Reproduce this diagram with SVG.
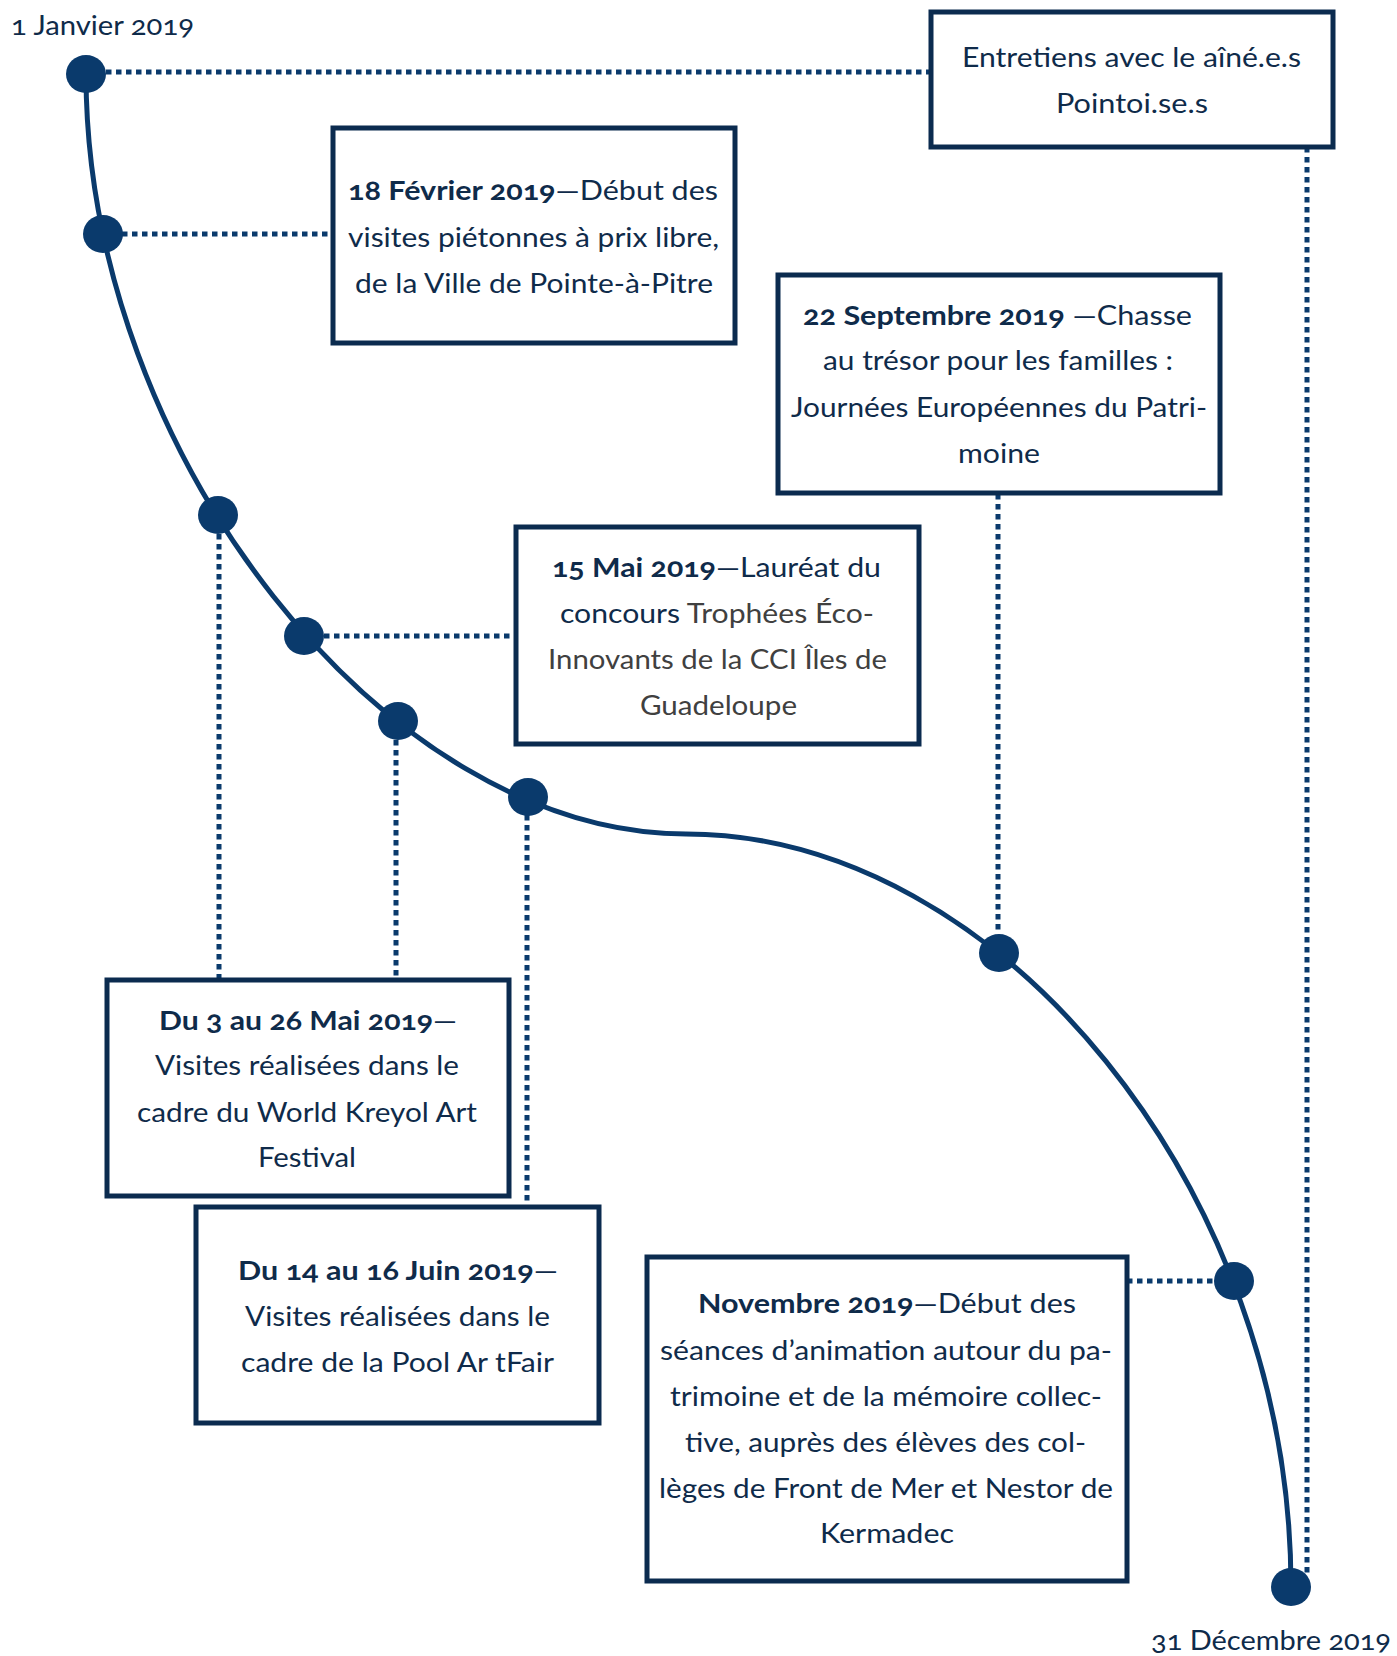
<svg xmlns="http://www.w3.org/2000/svg" width="1397" height="1656" viewBox="0 0 1397 1656">
<style>
.box{fill:#ffffff;stroke:#0b2b4f;stroke-width:5}
.dot{fill:#0a3a6c}
.conn{fill:none;stroke:#0a3a6c;stroke-width:5;stroke-dasharray:5.5 4.5}
.curve{fill:none;stroke:#0a3a6c;stroke-width:5}
text{font-family:Lato,"Open Sans","Liberation Sans",sans-serif;font-size:27px;fill:#0f2b4a;font-variant-numeric:oldstyle-nums}
.b{font-weight:bold}
.g{fill:#404040}
</style>
<rect width="1397" height="1656" fill="#ffffff"/>
<g id="connectors">
<path class="curve" d="M86,74 C86,454 386,834 686,834 C1000,834 1291,1190 1291,1587"/>
<line class="conn" x1="106" y1="72" x2="931" y2="72"/>
<line class="conn" x1="122" y1="234" x2="333" y2="234"/>
<line class="conn" x1="219" y1="534" x2="219" y2="980"/>
<line class="conn" x1="324" y1="636" x2="516" y2="636"/>
<line class="conn" x1="396" y1="740" x2="396" y2="980"/>
<line class="conn" x1="527" y1="815" x2="527" y2="1207"/>
<line class="conn" x1="998" y1="494" x2="998" y2="934"/>
<line class="conn" x1="1127" y1="1281" x2="1214" y2="1281"/>
<line class="conn" x1="1307" y1="147" x2="1307" y2="1575"/>
</g>
<g id="markers">
<ellipse class="dot" cx="86" cy="74" rx="20" ry="19"/>
<ellipse class="dot" cx="103" cy="234" rx="20" ry="19"/>
<ellipse class="dot" cx="218" cy="515" rx="20" ry="19"/>
<ellipse class="dot" cx="304" cy="636" rx="20" ry="19"/>
<ellipse class="dot" cx="398" cy="721" rx="20" ry="19"/>
<ellipse class="dot" cx="528" cy="797" rx="20" ry="19"/>
<ellipse class="dot" cx="999" cy="953" rx="20" ry="19"/>
<ellipse class="dot" cx="1234" cy="1281" rx="20" ry="19"/>
<ellipse class="dot" cx="1291" cy="1587" rx="20" ry="19"/>
</g>
<g id="date-start">
<text x="11" y="35" textLength="183" lengthAdjust="spacingAndGlyphs">1 Janvier 2019</text>
</g>
<g id="date-end">
<text x="1151" y="1650" textLength="240" lengthAdjust="spacingAndGlyphs">31 Décembre 2019</text>
</g>
<g id="box-entretiens">
<rect class="box" x="931" y="12" width="402" height="135"/>
<text x="962" y="67" textLength="339" lengthAdjust="spacingAndGlyphs">Entretiens avec le aîné.e.s</text>
<text x="1056" y="113" textLength="152" lengthAdjust="spacingAndGlyphs">Pointoi.se.s</text>
</g>
<g id="box-fevrier">
<rect class="box" x="333" y="128" width="402" height="215"/>
<text x="348" y="200" textLength="370" lengthAdjust="spacingAndGlyphs"><tspan class="b">18 Février 2019</tspan>—Début des</text>
<text x="348" y="247" textLength="371" lengthAdjust="spacingAndGlyphs">visites piétonnes à prix libre,</text>
<text x="355" y="293" textLength="358" lengthAdjust="spacingAndGlyphs">de la Ville de Pointe-à-Pitre</text>
</g>
<g id="box-septembre">
<rect class="box" x="778" y="275" width="442" height="218"/>
<text x="803" y="325" textLength="389" lengthAdjust="spacingAndGlyphs"><tspan class="b">22 Septembre 2019</tspan> —Chasse</text>
<text x="823" y="370" textLength="350" lengthAdjust="spacingAndGlyphs">au trésor pour les familles :</text>
<text x="791" y="417" textLength="416" lengthAdjust="spacingAndGlyphs">Journées Européennes du Patri-</text>
<text x="958" y="463" textLength="82" lengthAdjust="spacingAndGlyphs">moine</text>
</g>
<g id="box-mai15">
<rect class="box" x="516" y="527" width="403" height="217"/>
<text x="552" y="577" textLength="329" lengthAdjust="spacingAndGlyphs"><tspan class="b">15 Mai 2019</tspan>—Lauréat du</text>
<text x="560" y="623" textLength="314" lengthAdjust="spacingAndGlyphs">concours <tspan class="g">Trophées Éco-</tspan></text>
<text class="g" x="548" y="669" textLength="339" lengthAdjust="spacingAndGlyphs">Innovants de la CCI Îles de</text>
<text class="g" x="640" y="715" textLength="157" lengthAdjust="spacingAndGlyphs">Guadeloupe</text>
</g>
<g id="box-mai3">
<rect class="box" x="107" y="980" width="402" height="216"/>
<text x="159" y="1030" textLength="298" lengthAdjust="spacingAndGlyphs"><tspan class="b">Du 3 au 26 Mai 2019</tspan>—</text>
<text x="155" y="1075" textLength="304" lengthAdjust="spacingAndGlyphs">Visites réalisées dans le</text>
<text x="137" y="1122" textLength="340" lengthAdjust="spacingAndGlyphs">cadre du World Kreyol Art</text>
<text x="258" y="1167" textLength="98" lengthAdjust="spacingAndGlyphs">Festival</text>
</g>
<g id="box-juin">
<rect class="box" x="196" y="1207" width="403" height="216"/>
<text x="238" y="1280" textLength="320" lengthAdjust="spacingAndGlyphs"><tspan class="b">Du 14 au 16 Juin 2019</tspan>—</text>
<text x="245" y="1326" textLength="305" lengthAdjust="spacingAndGlyphs">Visites réalisées dans le</text>
<text x="241" y="1372" textLength="313" lengthAdjust="spacingAndGlyphs">cadre de la Pool Ar tFair</text>
</g>
<g id="box-novembre">
<rect class="box" x="647" y="1257" width="480" height="324"/>
<text x="698" y="1313" textLength="378" lengthAdjust="spacingAndGlyphs"><tspan class="b">Novembre 2019</tspan>—Début des</text>
<text x="660" y="1360" textLength="452" lengthAdjust="spacingAndGlyphs">séances d’animation autour du pa-</text>
<text x="670" y="1406" textLength="432" lengthAdjust="spacingAndGlyphs">trimoine et de la mémoire collec-</text>
<text x="685" y="1452" textLength="401" lengthAdjust="spacingAndGlyphs">tive, auprès des élèves des col-</text>
<text x="659" y="1498" textLength="454" lengthAdjust="spacingAndGlyphs">lèges de Front de Mer et Nestor de</text>
<text x="820" y="1543" textLength="134" lengthAdjust="spacingAndGlyphs">Kermadec</text>
</g>
</svg>
